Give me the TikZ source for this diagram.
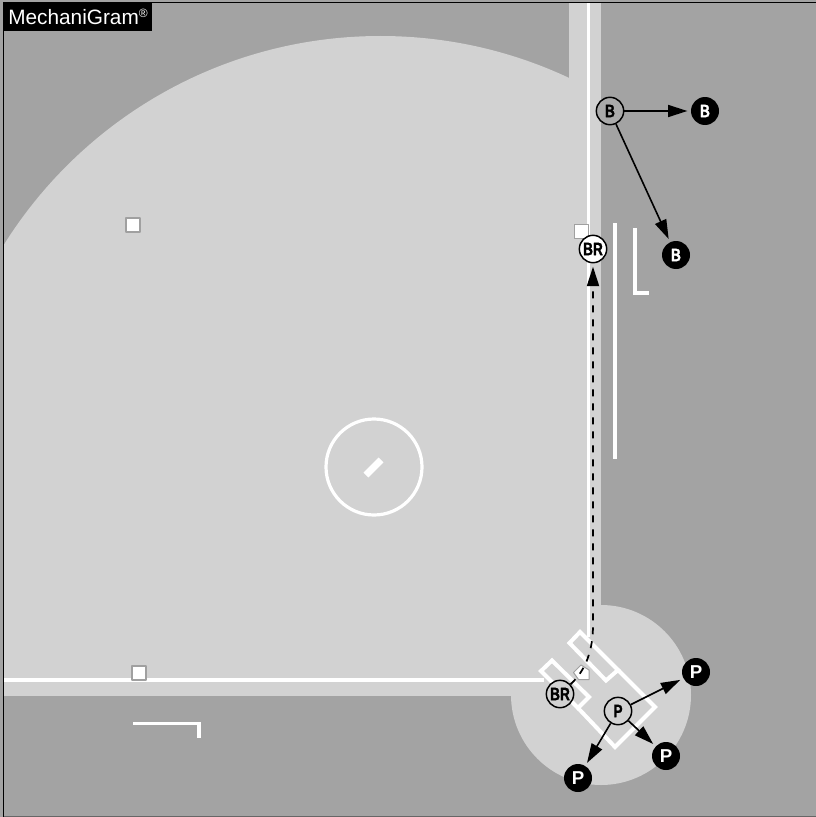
\documentclass[tikz,border=0pt]{standalone}
\usepackage{fontspec}
\setmainfont{Liberation Sans}
\newfontfamily\tagfont[FakeStretch=0.76,FakeBold=1.2]{Liberation Sans Bold}
\newfontfamily\wideTagfont{Liberation Sans Bold}
\usetikzlibrary{positioning,calc,arrows.meta}
\definecolor{turf}{HTML}{A3A3A3}
\definecolor{dirt}{HTML}{D2D2D2}
\definecolor{bagline}{HTML}{A0A0A0}
\tikzset{
	chalk/.style={draw=white, line width=2.5pt, line cap=butt, line join=miter},
	boxline/.style={draw=white, line width=3pt, line cap=butt, line join=miter},
	basebag/.style={draw=bagline, fill=white, line width=0.9pt, minimum size=10.5pt, inner sep=0pt},
	startpos/.style={circle, draw=black, fill=dirt, line width=1.1pt, minimum size=20.5pt, inner sep=0pt, font=\tagfont\fontsize{13.5}{13.5}\selectfont},
	endpos/.style={circle, fill=black, text=white, minimum size=21pt, inner sep=0pt, font=\tagfont\fontsize{13.5}{13.5}\selectfont},
	endwide/.style={endpos, font=\wideTagfont\fontsize{14}{14}\selectfont},
	move/.style={draw=black, line width=1.2pt, line cap=butt, -{Triangle[length=14.5pt,width=9pt]}, shorten >=2.5pt}
}
\begin{document}
\begin{tikzpicture}[x=0.75pt, y=-0.75pt, line cap=round, line join=round]
	\useasboundingbox (0,0) rectangle (816,817);
	% field
	\fill [turf] (0,0) rectangle (816,817);
	\begin{scope}
		\clip (4,3) rectangle (569,695);
		\fill [dirt] (380.5,480) circle (333pt);
	\end{scope}
	\fill [dirt] (569,3) rectangle (601,695);
	\fill [dirt] (4,680) rectangle (569,695);
	\fill [dirt] (601,695) circle (67.5pt);
	% foul lines
	\draw [chalk, line width=2.7pt] (588.5,3) -- (588.5,637);
	\draw [chalk, line width=2.7pt] (4,680) -- (544,680);
	% coach boxes
	\draw [chalk] (615,223) -- (615,459);
	\draw [chalk] (635,228) -- (635,293) -- (649,293);
	\draw [chalk] (133,723.5) -- (199,723.5) -- (199,738);
	% mound
	\draw [draw=white, line width=2.4pt] (374,467) circle (36pt);
	\draw [draw=white, line width=5.25pt, line cap=butt] (366,475) -- (381,460);
	% batter and catcher boxes
	\draw [boxline] (580,632) -- (569.5,643) -- (606,680.5) -- (618,670) -- cycle;
	\draw [boxline] (618,670) -- (655,707) -- (615,747) -- (578,708);
	\draw [boxline] (552,660.5) -- (541,671) -- (578,708) -- (589,697) -- cycle;
	% plate
	\draw [fill=white, draw=bagline, line width=0.75pt] (581,665) -- (573.5,672.5) -- (578.5,679.5) -- (589,679.5) -- (589,670) -- cycle;
	% bases
	\node [basebag] (second) at (133,225) {};
	\node [basebag] (first) at (581.5,231.5) {};
	\node [basebag] (third) at (139,673) {};
	% positions
	\node [startpos] (brStart) at (560,694) {BR};
	\node [startpos, fill=white] (brEnd) at (593,249) {BR};
	\node [startpos, fill=turf!85!dirt] (bStart) at (610,111) {B};
	\node [endpos] (bRight) at (705,111) {B};
	\node [endpos] (bDeep) at (676,255) {B};
	\node [startpos] (pStart) at (618,711) {P};
	\node [endwide] (pUp) at (696,672) {P};
	\node [endwide] (pRight) at (666,756) {P};
	\node [endwide] (pDown) at (578,778) {P};
	% moves
	\draw [move, line width=1.3pt, dash pattern=on 5.25pt off 5.25pt] (brStart) .. controls (586,670) and (593,650) .. (593,625) -- (brEnd);
	\draw [move] (bStart) -- (bRight);
	\draw [move] (bStart) -- (bDeep);
	\draw [move] (pStart) -- (pUp);
	\draw [move] (pStart) -- (pRight);
	\draw [move] (pStart) -- (pDown);
	% label
	\node [fill=black, text=white, anchor=north west, minimum width=111pt, minimum height=21.75pt, inner sep=0pt, inner xsep=3pt, align=left, text width=105pt, font=\fontsize{15.6}{15.6}\selectfont] (badge) at (4,2) {MechaniGram\textsuperscript{\fontsize{9}{9}\selectfont ®}};
	% frame
	\draw [black, line width=1.1pt, line cap=butt] (3.5,817) -- (3.5,2.5) -- (816,2.5);
	\draw [black!60, line width=0.8pt, line cap=butt] (3.5,816.2) -- (816,816.2);
\end{tikzpicture}
\end{document}
